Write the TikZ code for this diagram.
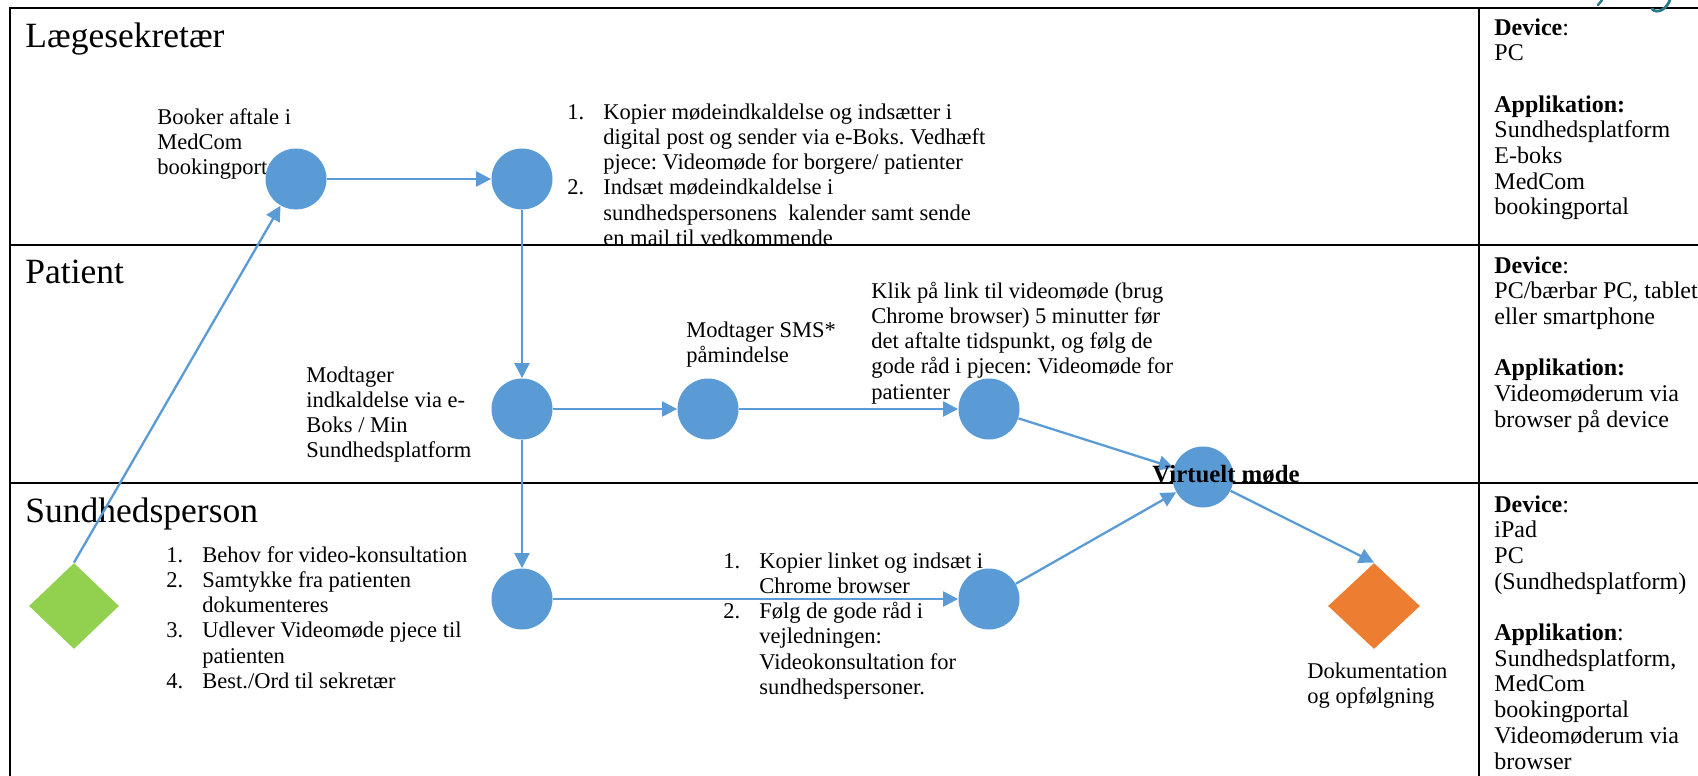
\documentclass[tikz,border=0pt]{standalone}
\usepackage{fontspec}
\setmainfont{Liberation Serif}
\usetikzlibrary{arrows.meta,shapes.geometric}
\frenchspacing

\definecolor{flowblue}{HTML}{5B9BD5}
\definecolor{startgreen}{HTML}{92D050}
\definecolor{endorange}{HTML}{ED7D31}
\definecolor{logoteal}{HTML}{2B7A8C}

\newcommand{\bodysize}{\fontsize{11.25}{12.65}\selectfont}
\newcommand{\txtlines}[1]{\begin{tabular}[t]{@{}l@{}}#1\end{tabular}}
\newcommand{\numlist}[1]{\begin{tabular}[t]{@{}p{18pt}@{}l@{}}#1\end{tabular}}

\tikzset{
  flowdot/.style={circle,fill=flowblue,minimum size=30.5pt,inner sep=0pt},
  flowarrow/.style={draw=flowblue,line width=1.15pt,-{Triangle[length=7.5pt,width=7.5pt]}},
  lanerule/.style={line width=1.3pt},
  lanetitle/.style={anchor=base west,inner sep=0pt,font=\fontsize{17.75}{21}\selectfont},
  flowtext/.style={anchor=base west,inner sep=0pt,font=\bodysize},
  infotext/.style={anchor=base west,inner sep=0pt,font=\fontsize{12}{12.85}\selectfont},
  startdia/.style={diamond,fill=startgreen,minimum width=45pt,minimum height=43pt,inner sep=0pt},
  enddia/.style={diamond,fill=endorange,minimum width=46pt,minimum height=43pt,inner sep=0pt}
}

\begin{document}
\begin{tikzpicture}[x=0.5pt,y=-0.5pt]
  \useasboundingbox (0,0) rectangle (1698,776);

  % frame and lanes
  \draw[lanerule] (10,776) -- (10,8) -- (1698,8);
  \draw[lanerule] (10,245) -- (1698,245) (10,483) -- (1698,483);
  \draw[lanerule] (1479,8) -- (1479,776);
  \draw[logoteal,line width=1.4pt,line cap=round] (1670,0) .. controls (1666,10) and (1657,14) .. (1652,9);
  \draw[logoteal,line width=1.2pt,line cap=round] (1598,5) -- (1602,0);

  % lane titles
  \node[lanetitle] (secretary) at (25,47) {Lægesekretær};
  \node[lanetitle] (patient) at (25,283) {Patient};
  \node[lanetitle] (clinician) at (25,522) {Sundhedsperson};

  % texts
  \node[flowtext] (bookertxt) at (157,124) {\txtlines{Booker aftale i\\MedCom\\bookingportal}};
  \begin{scope}
    \clip (10,8) rectangle (1479,245);
    \node[flowtext] (mailtxt) at (567,119) {\numlist{1.&Kopier mødeindkaldelse og indsætter i\\
      &digital post og sender via e-Boks. Vedhæft\\
      &pjece: Videomøde for borgere/ patienter\\
      2.&Indsæt mødeindkaldelse i\\
      &sundhedspersonens\ \ kalender samt sende\\
      &en mail til vedkommende}};
  \end{scope}
  \node[flowtext] (invitetxt) at (306,382) {\txtlines{Modtager\\indkaldelse via e-\\Boks / Min\\Sundhedsplatform}};
  \node[flowtext] (smstxt) at (686,337) {\txtlines{Modtager SMS*\\påmindelse}};
  \node[flowtext] (clicktxt) at (871,298) {\txtlines{Klik på link til videomøde (brug\\Chrome browser) 5 minutter før\\det aftalte tidspunkt, og følg de\\gode råd i pjecen: Videomøde for\\patienter}};
  \node[flowtext] (needtxt) at (166,562) {\numlist{1.&Behov for video-konsultation\\
      2.&Samtykke fra patienten\\
      &dokumenteres\\
      3.&Udlever Videomøde pjece til\\
      &patienten\\
      4.&Best./Ord til sekretær}};
  \node[flowtext] (linktxt) at (723,568) {\numlist{1.&Kopier linket og indsæt i\\
      &Chrome browser\\
      2.&Følg de gode råd i\\
      &vejledningen:\\
      &Videokonsultation for\\
      &sundhedspersoner.}};
  \node[flowtext] (finishtxt) at (1307,678) {\txtlines{Dokumentation\\og opfølgning}};

  % device column
  \node[infotext] (info1) at (1494,35) {\txtlines{\textbf{Device}:\\PC\\ \\\textbf{Applikation:}\\Sundhedsplatform\\E-boks\\MedCom\\bookingportal}};
  \node[infotext] (info2) at (1494,273) {\txtlines{\textbf{Device}:\\PC/bærbar PC, tablet\\eller smartphone\\ \\\textbf{Applikation:}\\Videomøderum via\\browser på device}};
  \node[infotext] (info3) at (1494,512) {\txtlines{\textbf{Device}:\\iPad\\PC\\(Sundhedsplatform)\\ \\\textbf{Applikation}:\\Sundhedsplatform,\\MedCom\\bookingportal\\Videomøderum via\\browser}};

  % steps
  \node[flowdot] (booker) at (296,179) {};
  \node[flowdot] (mail) at (522,179) {};
  \node[flowdot] (invite) at (522,409) {};
  \node[flowdot] (sms) at (708,409) {};
  \node[flowdot] (click) at (989,409) {};
  \node[flowdot] (meeting) at (1203,477) {};
  \node[flowdot] (need) at (522,599) {};
  \node[flowdot] (link) at (989,599) {};
  \node[startdia] (start) at (74,606) {};
  \node[enddia] (finish) at (1374,606) {};

  \draw[flowarrow] (start.north) -- (booker);
  \draw[flowarrow] (booker) -- (mail);
  \draw[flowarrow] (mail) -- (invite);
  \draw[flowarrow] (invite) -- (sms);
  \draw[flowarrow] (sms) -- (click);
  \draw[flowarrow] (click) -- (meeting);
  \draw[flowarrow] (invite) -- (need);
  \draw[flowarrow] (need) -- (link);
  \draw[flowarrow] (link) -- (meeting);
  \draw[flowarrow] (meeting) -- (finish.north);

  \node[anchor=base west,inner sep=0pt,font=\bfseries\fontsize{12.4}{14}\selectfont] (meetinglbl) at (1152,482) {Virtuelt møde};
\end{tikzpicture}
\end{document}
